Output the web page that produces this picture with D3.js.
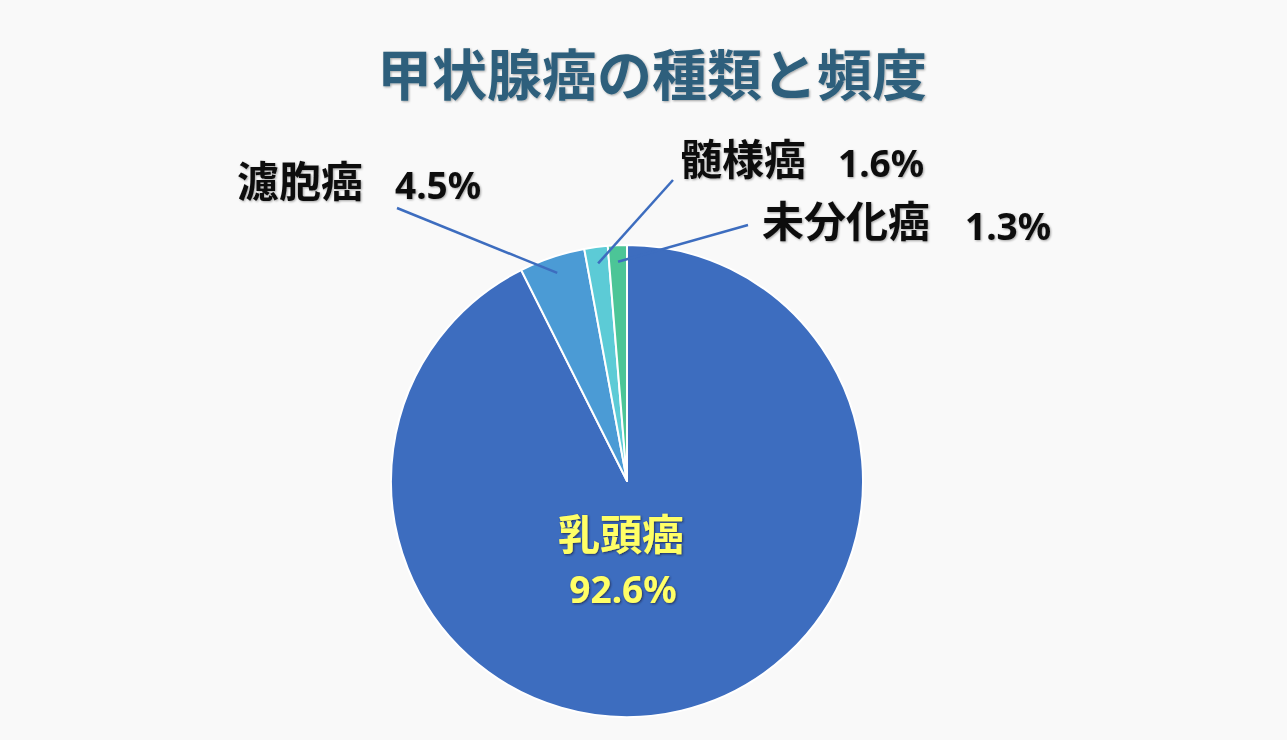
<!DOCTYPE html>
<html>
<head>
<meta charset="utf-8">
<script src="https://cdn.jsdelivr.net/npm/d3@7"></script>
<style>
  body { margin: 0; background: #f8f8f8; }
  svg { display: block; }
</style>
</head>
<body>
<div id="chart"></div>
<script>
var categories = ['乳頭癌', '濾胞癌', '髄様癌', '未分化癌'];
var values = [92.6, 4.5, 1.6, 1.3];
var valueLabels = ['92.6%', '4.5%', '1.6%', '1.3%'];
var title = '甲状腺癌の種類と頻度';

var
  w = 1287,
  h = 740,
  cx = 627,
  cy = 481,
  r = 236,
  jpFont = '"Noto Sans CJK JP", sans-serif',
  numFont = '"Noto Sans", "Open Sans", sans-serif',
  colors = d3.scaleOrdinal().domain(categories)
    .range(['#3d6dbf', '#4b9bd5', '#5ccbd6', '#4cc597']);

var svg = d3.select('#chart').append('svg')
  .attr('width', w)
  .attr('height', h);

var defs = svg.append('defs');
var sh = defs.append('filter').attr('id', 'shadow')
  .attr('x', '-20%').attr('y', '-20%').attr('width', '140%').attr('height', '140%');
sh.append('feDropShadow')
  .attr('dx', 1).attr('dy', 1).attr('stdDeviation', 1)
  .attr('flood-color', '#000').attr('flood-opacity', 0.35);
var sh2 = defs.append('filter').attr('id', 'shadowDark')
  .attr('x', '-20%').attr('y', '-20%').attr('width', '140%').attr('height', '140%');
sh2.append('feDropShadow')
  .attr('dx', 1).attr('dy', 1).attr('stdDeviation', 1.2)
  .attr('flood-color', '#1a2a50').attr('flood-opacity', 0.9);

svg.append('rect').attr('width', w).attr('height', h).attr('fill', '#f9f9f9');

// title
svg.append('text')
  .attr('x', 652)
  .attr('y', 95)
  .attr('text-anchor', 'middle')
  .attr('font-family', jpFont)
  .attr('font-weight', 'bold')
  .attr('font-size', 55)
  .attr('fill', '#2d5f7b')
  .attr('filter', 'url(#shadow)')
  .text(title);

var pie = d3.pie().sort(null).value(function(d) { return d; });
var arcs = pie(values);
var arc = d3.arc().innerRadius(0).outerRadius(r);
var inner = d3.arc().innerRadius(r * 0.93).outerRadius(r * 0.93);

var g = svg.append('g').attr('transform', 'translate(' + cx + ',' + cy + ')');

g.selectAll('path.slice')
  .data(arcs)
  .enter().append('path')
  .attr('class', 'slice')
  .attr('d', arc)
  .attr('fill', function(d, i) { return colors(categories[i]); })
  .attr('stroke', '#fff')
  .attr('stroke-width', 2)
  .attr('stroke-linejoin', 'round');

// label anchors for the small slices (text start x, baseline y, line start)
var labelPos = [
  null,
  {x: 237, y: 197, nx: 395, ny: 199, lx: 397, ly: 208},
  {x: 680, y: 175, nx: 838, ny: 177, lx: 673, ly: 180},
  {x: 762, y: 237, nx: 965, ny: 240, lx: 748, ly: 225}
];

arcs.forEach(function(d, i) {
  var p = labelPos[i];
  if (!p) return;
  var c = inner.centroid(d);
  svg.append('line')
    .attr('x1', p.lx).attr('y1', p.ly)
    .attr('x2', cx + c[0]).attr('y2', cy + c[1])
    .attr('stroke', '#3d6dbf')
    .attr('stroke-width', 2.5);
  svg.append('text')
    .attr('x', p.x).attr('y', p.y)
    .attr('font-family', jpFont)
    .attr('font-weight', 'bold')
    .attr('font-size', 42)
    .attr('fill', '#111')
    .attr('filter', 'url(#shadow)')
    .text(categories[i]);
  svg.append('text')
    .attr('x', p.nx).attr('y', p.ny)
    .attr('font-family', numFont)
    .attr('font-weight', 'bold')
    .attr('font-size', 37)
    .attr('fill', '#111')
    .attr('filter', 'url(#shadow)')
    .text(valueLabels[i]);
});

// big slice label inside
svg.append('text')
  .attr('x', 621).attr('y', 550)
  .attr('text-anchor', 'middle')
  .attr('font-family', jpFont)
  .attr('font-weight', 'bold')
  .attr('font-size', 42)
  .attr('fill', '#ffff66')
  .attr('filter', 'url(#shadowDark)')
  .text(categories[0]);
svg.append('text')
  .attr('x', 623).attr('y', 603)
  .attr('text-anchor', 'middle')
  .attr('font-family', numFont)
  .attr('font-weight', 'bold')
  .attr('font-size', 37)
  .attr('fill', '#ffff66')
  .attr('filter', 'url(#shadowDark)')
  .text(valueLabels[0]);
</script>
</body>
</html>
